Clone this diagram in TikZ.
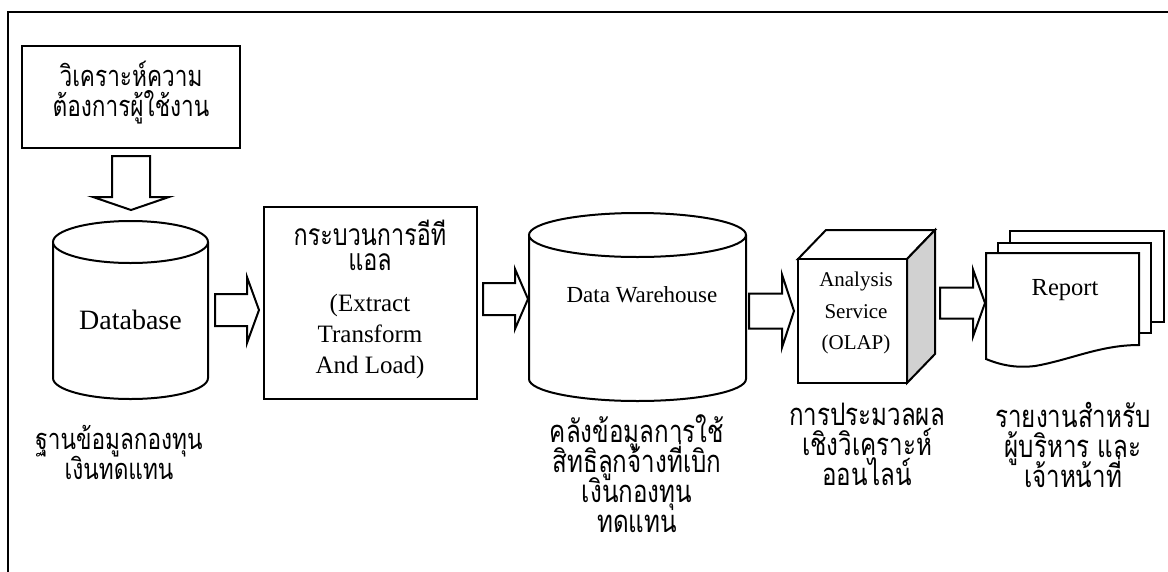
\documentclass[tikz,border=0pt]{standalone}
\usepackage{fontspec}
\setmainfont{Liberation Serif}
\newfontfamily\thaifont[Script=Thai,FakeStretch=0.78]{Loma}
\usetikzlibrary{calc}

% Thai text at a given size with a fixed line pitch
\newcommand\thsz[2]{\thaifont\fontsize{#1}{#2}\selectfont\lineskiplimit=-100pt\lineskip=0pt}

% horizontal block arrow: tail point, tip point, shaft half width, head half width, head length
\newcommand\hblock[5]{%
  \draw[blk] let \p1=(#1), \p2=(#2) in
    (\x1,\y1+#3) -- (\x2-#5,\y1+#3) -- (\x2-#5,\y1+#4) -- (\x2,\y1)
    -- (\x2-#5,\y1-#4) -- (\x2-#5,\y1-#3) -- (\x1,\y1-#3) -- cycle;}
% vertical (downward) block arrow
\newcommand\vblock[5]{%
  \draw[blk] let \p1=(#1), \p2=(#2) in
    (\x1-#3,\y1) -- (\x1-#3,\y2+#5) -- (\x1-#4,\y2+#5) -- (\x1,\y2)
    -- (\x1+#4,\y2+#5) -- (\x1+#3,\y2+#5) -- (\x1+#3,\y1) -- cycle;}

\begin{document}
\begin{tikzpicture}[x=1pt,y=-1pt,
  shp/.style={draw, line width=2pt, fill=white},
  blk/.style={draw, line width=2pt, fill=white, line join=miter},
  region/.style={draw=none, inner sep=0pt, outer sep=0pt},
  thl/.style={font=\thsz{31}{30}, align=center, inner sep=0pt},
  en/.style={align=center, inner sep=0pt}]
\useasboundingbox (0,0) rectangle (1168,571);

% page frame
\draw[line width=2.5pt] (8,575) -- (8,12) -- (1172,12);

% requirement analysis box
\node[shp, minimum width=218pt, minimum height=102pt] (req) at (131,97) {};
\node[thl, font=\thsz{29}{30}] (reqtxt) at (131,93) {วิเคราะห์ความ\\ต้องการผู้ใช้งาน};

% source database cylinder
\node[region, minimum width=155pt, minimum height=178pt] (db) at (130.5,311) {};
\draw[shp] (53,242) -- (53,378) arc[start angle=180, end angle=360, x radius=77.5pt, y radius=21pt]
  -- (208,242);
\draw[shp] (130.5,242) ellipse [x radius=77.5pt, y radius=21pt];
\node[en, font=\fontsize{28}{32}\selectfont] (dbtxt) at (130.5,320) {Database};
\node[thl, font=\thsz{29}{30}] (dblab) at (119,452) {ฐานข้อมูลกองทุน\\เงินทดแทน};

% ETL process box: Thai title lines, then the English name
\node[shp, minimum width=213pt, minimum height=192pt] (etl) at (370.5,303) {};
\node[thl, font=\thsz{30}{28}] (etlth1) at (370,233) {กระบวนการอีที};
\node[thl, font=\thsz{30}{28}] (etlth2) at (370,262) {แอล};
\node[en, font=\fontsize{25}{31}\selectfont] (etlen) at (370,336) {(Extract\\Transform\\And Load)};

% data warehouse cylinder
\node[region, minimum width=217pt, minimum height=188pt] (dw) at (637.5,307) {};
\draw[shp] (529,235) -- (529,379) arc[start angle=180, end angle=360, x radius=108.5pt, y radius=22pt]
  -- (746,235);
\draw[shp] (637.5,235) ellipse [x radius=108.5pt, y radius=22pt];
\node[en, font=\fontsize{23}{28}\selectfont] (dwtxt) at (642,295) {Data Warehouse};
\node[thl] (dwlab) at (637,474) {คลังข้อมูลการใช้\\สิทธิลูกจ้างที่เบิก\\เงินกองทุน\\ทดแทน};

% OLAP cube
\draw[shp] (798,259) -- (826,230) -- (935,230) -- (907,259) -- cycle;
\draw[shp, fill=black!18] (907,259) -- (935,230) -- (935,354) -- (907,383) -- cycle;
\node[shp, minimum width=109pt, minimum height=124pt] (olap) at (852.5,321) {};
\node[en, font=\fontsize{21}{31.5}\selectfont] (olaptxt) at (856,313) {Analysis\\Service\\(OLAP)};
\node[thl] (olaplab) at (867,444) {การประมวลผล\\เชิงวิเคราะห์\\ออนไลน์};

% report pages
\draw[shp] (1010,231) rectangle (1164,322);
\draw[shp] (998,243) rectangle (1151,333);
\node[region, minimum width=153pt, minimum height=106pt] (rep) at (1062.5,306) {};
\draw[shp] (986,253) -- (1139,253) -- (1139,345)
  .. controls (1100,345) and (1070,360) .. (1035,366)
  .. controls (1018,368) and (1003,366) .. (986,359) -- cycle;
\node[en, font=\fontsize{24.5}{28}\selectfont] (reptxt) at (1065,290) {Report};
\node[thl] (replab) at (1073,445) {รายงานสำหรับ\\ผู้บริหาร และ\\เจ้าหน้าที่};

% flow arrows
\vblock{$(req.south)+(0,7)$}{$(db.north)+(0,-12)$}{19pt}{38pt}{13pt}
\hblock{$(db.east)+(7,-1)$}{$(etl.west)+(-4,0)$}{16pt}{33pt}{12pt}
\hblock{$(etl.east)+(5,-4)$}{$(dw.west)+(-1,0)$}{16pt}{30pt}{13pt}
\hblock{$(dw.east)+(3,4)$}{$(olap.west)+(-3,0)$}{17.5pt}{36.5pt}{12pt}
\hblock{$(olap.east)+(32,-18)$}{$(rep.west)+(-1,0)$}{15.5pt}{33.5pt}{12pt}
\end{tikzpicture}
\end{document}
